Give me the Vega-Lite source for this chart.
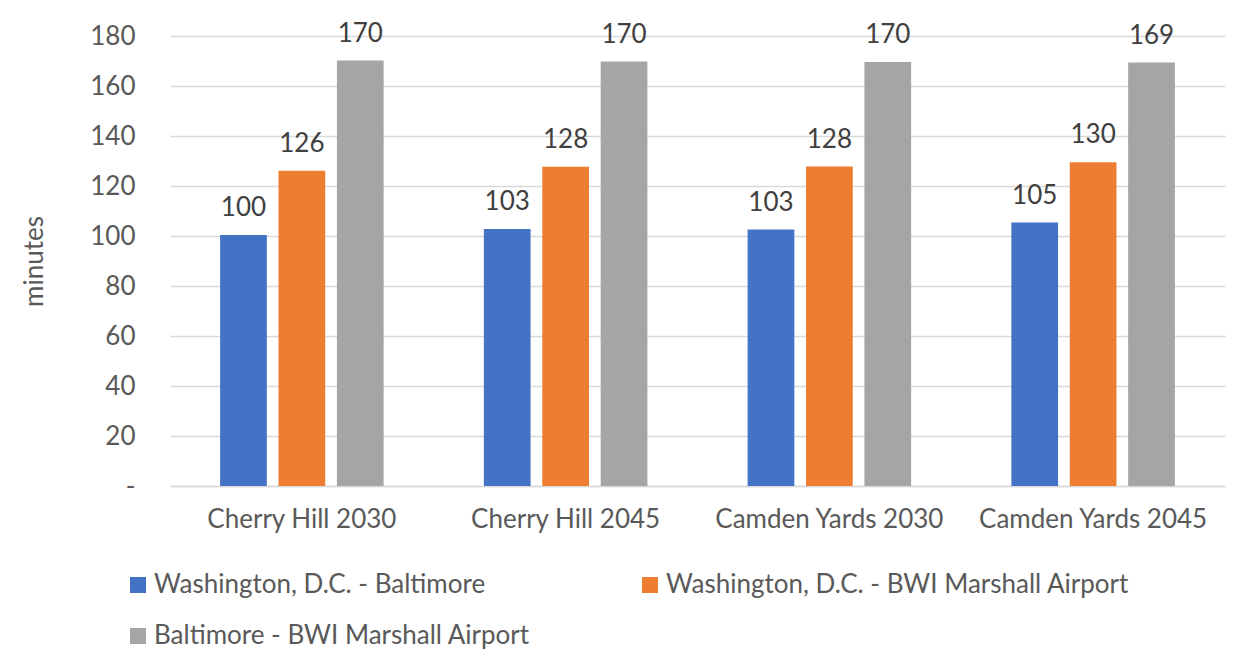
{
  "$schema": "https://vega.github.io/schema/vega-lite/v6.json",
  "width": 1055,
  "height": 450,
  "autosize": {"type": "none"},
  "padding": {"left": 170, "top": 36, "right": 28, "bottom": 183},
  "background": "white",
  "config": {
    "font": "Lato",
    "view": {"stroke": null}
  },
  "data": {
    "values": [
      {"scenario": "Cherry Hill 2030", "route": "Washington, D.C. - Baltimore", "minutes": 100.4},
      {"scenario": "Cherry Hill 2030", "route": "Washington, D.C. - BWI Marshall Airport", "minutes": 126.1},
      {"scenario": "Cherry Hill 2030", "route": "Baltimore - BWI Marshall Airport", "minutes": 170.2},
      {"scenario": "Cherry Hill 2045", "route": "Washington, D.C. - Baltimore", "minutes": 102.8},
      {"scenario": "Cherry Hill 2045", "route": "Washington, D.C. - BWI Marshall Airport", "minutes": 127.7},
      {"scenario": "Cherry Hill 2045", "route": "Baltimore - BWI Marshall Airport", "minutes": 169.8},
      {"scenario": "Camden Yards 2030", "route": "Washington, D.C. - Baltimore", "minutes": 102.6},
      {"scenario": "Camden Yards 2030", "route": "Washington, D.C. - BWI Marshall Airport", "minutes": 127.8},
      {"scenario": "Camden Yards 2030", "route": "Baltimore - BWI Marshall Airport", "minutes": 169.6},
      {"scenario": "Camden Yards 2045", "route": "Washington, D.C. - Baltimore", "minutes": 105.4},
      {"scenario": "Camden Yards 2045", "route": "Washington, D.C. - BWI Marshall Airport", "minutes": 129.5},
      {"scenario": "Camden Yards 2045", "route": "Baltimore - BWI Marshall Airport", "minutes": 169.4}
    ]
  },
  "encoding": {
    "x": {
      "field": "scenario",
      "type": "nominal",
      "sort": ["Cherry Hill 2030", "Cherry Hill 2045", "Camden Yards 2030", "Camden Yards 2045"],
      "scale": {"paddingInner": 0.38, "paddingOuter": 0.19},
      "axis": {
        "title": null,
        "labelAngle": 0,
        "labelFontSize": 26,
        "labelColor": "#595959",
        "labelPadding": 20,
        "labelLimit": 400,
        "ticks": false,
        "domain": true,
        "domainColor": "#D9D9D9",
        "domainWidth": 1.5
      }
    },
    "xOffset": {
      "field": "route",
      "type": "nominal",
      "sort": ["Washington, D.C. - Baltimore", "Washington, D.C. - BWI Marshall Airport", "Baltimore - BWI Marshall Airport"],
      "scale": {"paddingInner": 0.2, "paddingOuter": 0}
    },
    "y": {
      "field": "minutes",
      "type": "quantitative",
      "scale": {"domain": [0, 180], "nice": false},
      "axis": {
        "title": "minutes",
        "titleFontSize": 26,
        "titleFontWeight": "normal",
        "titleColor": "#595959",
        "titlePadding": 42,
        "values": [0, 20, 40, 60, 80, 100, 120, 140, 160, 180],
        "labelExpr": "datum.value === 0 ? '-' : datum.label",
        "labelFontSize": 26,
        "labelColor": "#595959",
        "labelPadding": 35,
        "ticks": false,
        "domain": false,
        "grid": true,
        "gridColor": "#D9D9D9",
        "gridWidth": 1.5
      }
    }
  },
  "layer": [
    {
      "mark": {"type": "bar"},
      "encoding": {
        "color": {
          "field": "route",
          "type": "nominal",
          "sort": ["Washington, D.C. - Baltimore", "Washington, D.C. - BWI Marshall Airport", "Baltimore - BWI Marshall Airport"],
          "scale": {
            "domain": ["Washington, D.C. - Baltimore", "Washington, D.C. - BWI Marshall Airport", "Baltimore - BWI Marshall Airport"],
            "range": ["#4472C4", "#ED7D31", "#A5A5A5"]
          },
          "legend": {
            "title": null,
            "orient": "none",
            "legendX": -45,
            "legendY": 536,
            "columns": 2,
            "direction": "horizontal",
            "symbolType": "square",
            "symbolSize": 256,
            "symbolStrokeWidth": 0,
            "symbolOpacity": 1,
            "labelFontSize": 26,
            "labelColor": "#595959",
            "labelLimit": 700,
            "labelOffset": 3,
            "columnPadding": 107,
            "rowPadding": 25
          }
        }
      }
    },
    {
      "mark": {"type": "text", "dy": -19, "baseline": "alphabetic", "fontSize": 26, "color": "#404040"},
      "encoding": {
        "text": {"field": "minutes", "type": "quantitative", "format": ".0f"}
      }
    }
  ]
}
